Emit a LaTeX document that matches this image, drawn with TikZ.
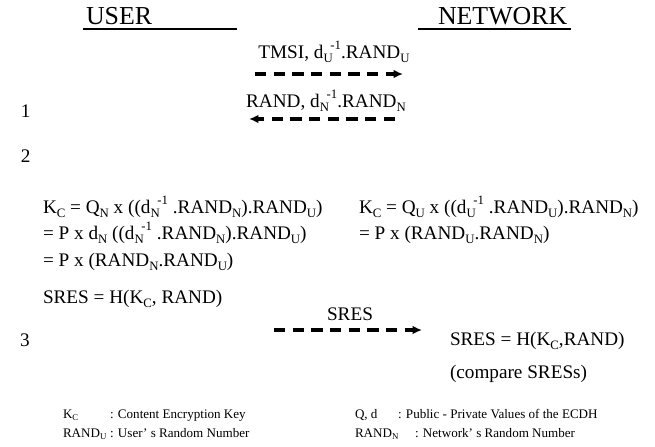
\documentclass[tikz,border=0pt]{standalone}
\usepackage{fontspec}
\setmainfont{Liberation Serif}
\usepackage{tikz}
\usetikzlibrary{arrows.meta, positioning}

\newcommand{\lo}[1]{\raisebox{-0.22em}{\fontsize{9.6}{10}\selectfont #1}}
\newcommand{\hi}[1]{\raisebox{0.42em}{\fontsize{9.6}{10}\selectfont #1}}
\newcommand{\dinv}[1]{d\lo{#1}\kern-0.12em\hi{-1}}
\newcommand{\bigtxt}{\fontsize{19.4}{23}\selectfont}
\newcommand{\midtxt}{\fontsize{14.4}{17}\selectfont}
\newcommand{\smalltxt}{\fontsize{9.8}{11}\selectfont}
\newcommand{\notelo}[1]{\raisebox{-0.2em}{\fontsize{6.6}{7}\selectfont #1}}

\begin{document}
\begin{tikzpicture}[x=0.75pt, y=-0.75pt, >={Latex[length=7pt,width=6.5pt]},
                    inner sep=0pt, outer sep=0pt]
\tikzstyle{head}=[anchor=base west, font=\bigtxt]
\tikzstyle{line}=[anchor=base west, font=\midtxt]
\tikzstyle{lbl}=[anchor=base, font=\midtxt]
\tikzstyle{note}=[anchor=base west, font=\smalltxt]
\tikzstyle{msg}=[->, line width=2.5pt, dash pattern=on 8.5pt off 5.5pt]
\tikzstyle{bar}=[line width=1.3pt]
  \useasboundingbox (0,0) rectangle (655,446);
  % heads
  \node[head] (user) at (86,24)  {USER};
  \node[head] (net)  at (438,24) {NETWORK};
  \coordinate (uL) at (83,29);  \coordinate (uR) at (237,29);
  \coordinate (nL) at (418,29); \coordinate (nR) at (571,29);
  \draw[bar] (uL) -- (uR);
  \draw[bar] (nL) -- (nR);
  % steps
  \node[line] (s1) at (21,117) {1};
  \node[line] (s2) at (21,162) {2};
  \node[line] (s3) at (20,346) {3};
  % step 1
  \coordinate (m1a) at (255,74);  \coordinate (m1b) at (403,74);
  \coordinate (m2a) at (395,119); \coordinate (m2b) at (249,119);
  \draw[msg] (m1a) -- (m1b);
  \draw[msg] (m2a) -- (m2b);
  \node[lbl] (t1) at (334,58)  {TMSI, \dinv{U}.RAND\lo{U}};
  \node[lbl] (t2) at (326,107) {RAND, \dinv{N}.RAND\lo{N}};
  % step 2, user side
  \node[line] (u1) at (43,213) {K\lo{C} = Q\lo{N} x ((\dinv{N} .RAND\lo{N}).RAND\lo{U})};
  \node[line] (u2) at (43,239) {= P x d\lo{N} ((\dinv{N} .RAND\lo{N}).RAND\lo{U})};
  \node[line] (u3) at (43,266) {= P x (RAND\lo{N}.RAND\lo{U})};
  \node[line] (u4) at (43,303) {SRES = H(K\lo{C}, RAND)};
  % step 2, network side
  \node[line] (n1) at (359,213) {K\lo{C} = Q\lo{U} x ((\dinv{U} .RAND\lo{U}).RAND\lo{N})};
  \node[line] (n2) at (359,239) {= P x (RAND\lo{U}.RAND\lo{N})};
  % step 3
  \coordinate (m3a) at (274,330); \coordinate (m3b) at (422,330);
  \draw[msg] (m3a) -- (m3b);
  \node[lbl] (t3) at (350,320) {SRES};
  \node[line] (n3) at (450,345) {SRES = H(K\lo{C},RAND)};
  \node[line] (n4) at (450,378) {(compare SRESs)};
  % legend
  \node[note] (k1) at (63,418)  {K\notelo{C}};
  \node[note] (k2) at (110,418) {: Content Encryption Key};
  \node[note] (r1) at (63,437)  {RAND\notelo{U}};
  \node[note] (r2) at (110,437) {: User' s Random Number};
  \node[note] (q1) at (355,418) {Q, d};
  \node[note] (q2) at (398,418) {: Public - Private Values of the ECDH};
  \node[note] (w1) at (355,437) {RAND\notelo{N}};
  \node[note] (w2) at (415,437) {: Network' s Random Number};
\end{tikzpicture}
\end{document}
